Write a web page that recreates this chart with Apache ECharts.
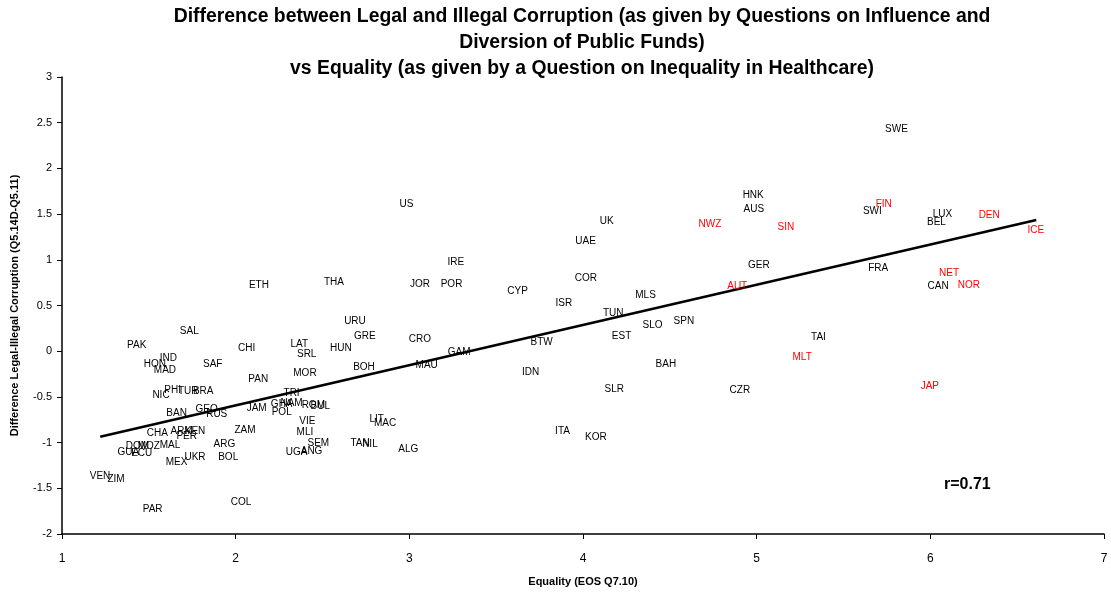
<!DOCTYPE html>
<html>
<head>
<meta charset="utf-8">
<script src="https://cdn.jsdelivr.net/npm/echarts@6/dist/echarts.min.js"></script>
<style>html,body{margin:0;padding:0;background:#fff;}#c{width:1111px;height:592px;}</style>
</head>
<body>
<div id="c"></div>
<script>
var names = ["SAL","PAK","IND","HON","MAD","SAF","CHI","PAN","NIC","PHI","TUR","BRA","BAN","GEO","RUS","JAM","CHA","ARM","KEN","PER","ZAM","MAL","DOM","MOZ","GUA","ECU","MEX","UKR","ARG","BOL","VEN","ZIM","PAR","COL",
  "ETH","THA","URU","GRE","CRO","LAT","SRL","HUN","MOR","BOH","MAU","TRI","GHA","NAM","POL","ROM","BUL","VIE","MLI","SEM","UGA","ANG","LIT","MAC","TAN","NIL","ALG",
  "US","UK","NWZ","UAE","IRE","JOR","POR","CYP","COR","ISR","MLS","TUN","SLO","SPN","EST","GAM","BTW","IDN","BAH","SLR","ITA","KOR",
  "SWE","HNK","AUS","SIN","SWI","FIN","LUX","BEL","DEN","ICE","GER","AUT","FRA","NET","NOR","CAN","TAI","MLT","CZR","JAP"];
var xs = [1.733,1.430,1.612,1.535,1.593,1.868,2.063,2.130,1.570,1.637,1.727,1.813,1.660,1.833,1.891,2.121,1.549,1.689,1.766,1.718,2.054,1.622,1.434,1.500,1.382,1.459,1.660,1.766,1.935,1.957,1.219,1.311,1.522,2.031,
  2.134,2.566,2.687,2.744,3.061,2.366,2.409,2.606,2.399,2.739,3.100,2.322,2.265,2.322,2.265,2.447,2.487,2.413,2.399,2.476,2.351,2.437,2.812,2.860,2.716,2.773,2.994,
  2.984,4.136,4.731,4.015,3.268,3.061,3.243,3.623,4.017,3.890,4.360,4.174,4.400,4.581,4.222,3.287,3.762,3.698,4.477,4.180,3.882,4.074,
  5.805,4.980,4.984,5.168,5.666,5.732,6.070,6.035,6.339,6.607,5.013,4.888,5.700,6.108,6.222,6.045,5.356,5.262,4.903,5.997];
var ys = [0.217,0.062,-0.076,-0.145,-0.203,-0.145,0.036,-0.308,-0.482,-0.428,-0.442,-0.442,-0.681,-0.630,-0.688,-0.627,-0.899,-0.877,-0.877,-0.928,-0.862,-1.026,-1.043,-1.040,-1.109,-1.116,-1.214,-1.163,-1.018,-1.159,-1.370,-1.406,-1.732,-1.649,
  0.717,0.750,0.326,0.163,0.127,0.080,-0.029,0.036,-0.236,-0.181,-0.156,-0.457,-0.583,-0.572,-0.670,-0.591,-0.602,-0.766,-0.888,-1.007,-1.105,-1.094,-0.743,-0.790,-1.007,-1.018,-1.069,
  1.612,1.420,1.391,1.203,0.975,0.732,0.732,0.655,0.797,0.525,0.616,0.413,0.286,0.333,0.163,-0.011,0.094,-0.232,-0.145,-0.413,-0.880,-0.942,
  2.428,1.710,1.558,1.355,1.529,1.609,1.493,1.413,1.482,1.322,0.938,0.707,0.913,0.851,0.721,0.707,0.156,-0.062,-0.428,-0.384];
var redNames = ["NWZ","SIN","FIN","DEN","ICE","AUT","NET","NOR","MLT","JAP"];
var trendX = [1.22, 6.61];
var trendY = [-0.935, 1.435];
var yTicks = [-2,-1.5,-1,-0.5,0,0.5,1,1.5,2,2.5,3];
var xTicks = [1,2,3,4,5,6,7];

var pts = names.map(function(n,i){
  var red = redNames.indexOf(n) >= 0;
  return {name:n, value:[xs[i], ys[i]], label:{color: red ? '#ff0000' : '#000000'}};
});
var trend = trendX.map(function(x,i){return [x, trendY[i]];});

var chart = echarts.init(document.getElementById('c'));
chart.setOption({
  animation:false,
  backgroundColor:'#ffffff',
  title:{
    text:'Difference between Legal and Illegal Corruption (as given by Questions on Influence and\nDiversion of Public Funds)\nvs Equality (as given by a Question on Inequality in Healthcare)',
    left:577, top:-1, textAlign:'center',
    textStyle:{fontFamily:'Liberation Sans, Arial', fontWeight:'bold', fontSize:19.4, lineHeight:26, color:'#000'}
  },
  grid:{left:62, right:7, top:77, bottom:54, containLabel:false},
  xAxis:{
    type:'value', min:xTicks[0], max:xTicks[xTicks.length-1], interval:1,
    name:'Equality (EOS Q7.10)', nameLocation:'middle', nameGap:42,
    nameTextStyle:{fontFamily:'Liberation Sans, Arial', fontWeight:'bold', fontSize:11, color:'#000'},
    axisLine:{onZero:false, lineStyle:{color:'#000', width:1.5}},
    axisTick:{show:true, length:5, lineStyle:{color:'#000'}},
    axisLabel:{fontFamily:'Liberation Sans, Arial', fontSize:12, color:'#000', margin:19},
    splitLine:{show:false}
  },
  yAxis:{
    type:'value', min:yTicks[0], max:yTicks[yTicks.length-1], interval:0.5,
    name:'Difference Legal-Illegal Corruption (Q5.14D-Q5.11)', nameLocation:'middle', nameGap:42,
    nameTextStyle:{fontFamily:'Liberation Sans, Arial', fontWeight:'bold', fontSize:11, color:'#000'},
    axisLine:{show:true, onZero:false, lineStyle:{color:'#000', width:1.5}},
    axisTick:{show:true, length:5, lineStyle:{color:'#000'}},
    axisLabel:{fontFamily:'Liberation Sans, Arial', fontSize:11, color:'#000', margin:10},
    splitLine:{show:false}
  },
  series:[
    {
      type:'scatter', data:pts, symbolSize:1,
      itemStyle:{color:'rgba(0,0,0,0)', opacity:1},
      label:{show:true, position:'inside', formatter:'{b}', fontFamily:'Liberation Sans, Arial', fontSize:10, opacity:1, textBorderWidth:0},
      emphasis:{disabled:true}, silent:true, z:3
    },
    {
      type:'line', data:trend, showSymbol:false, symbol:'none',
      lineStyle:{color:'#000', width:2.5}, silent:true, z:2
    }
  ],
  graphic:[{
    type:'text', left:944, top:477,
    style:{text:'r=0.71', fontFamily:'Liberation Sans, Arial', fontWeight:'bold', fontSize:16, fill:'#000'}
  }]
});
</script>
</body>
</html>
